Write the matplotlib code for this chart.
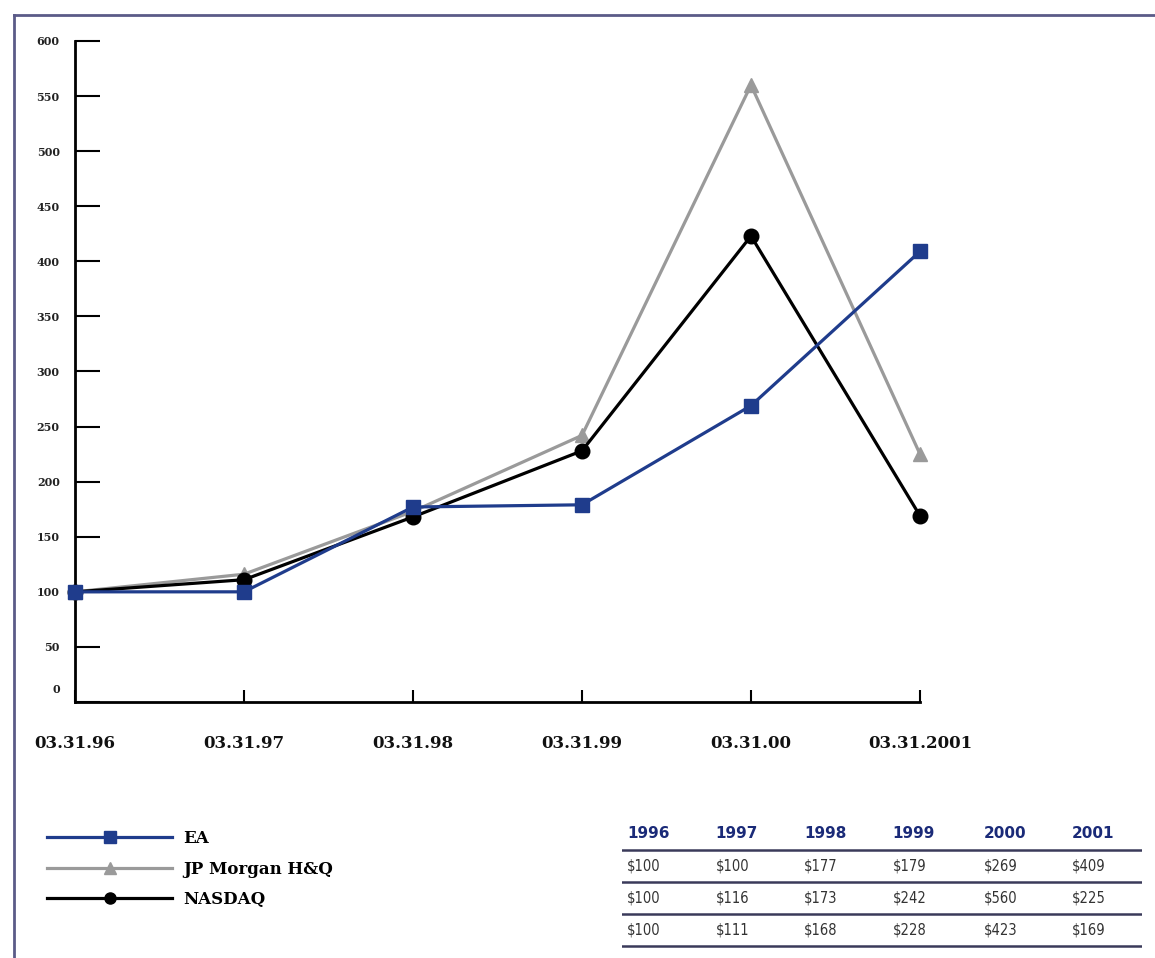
import numpy as np
import matplotlib.pyplot as plt
from matplotlib.lines import Line2D
import matplotlib.transforms as mtransforms

# Data
dates = ["03.31.96", "03.31.97", "03.31.98", "03.31.99", "03.31.00", "03.31.2001"]
years = ["1996", "1997", "1998", "1999", "2000", "2001"]
ea = [100, 100, 177, 179, 269, 409]
jpm = [100, 116, 173, 242, 560, 225]
nasdaq = [100, 111, 168, 228, 423, 169]
yticks = list(range(0, 601, 50))

navy = "#1f3c8c"
grey = "#9a9a9a"
serif = "DejaVu Serif"

W, H = 1155, 958
fig = plt.figure(figsize=(W / 100, H / 100), dpi=100)
fig.patch.set_facecolor("white")

# main axes: x from 75px to 920px, y=0 at 702px, y=600 at 41px
ax = fig.add_axes([75 / W, (H - 702) / H, 845 / W, 661 / H])
x = np.arange(len(dates))

ax.plot(x, jpm, color=grey, lw=2.3, marker="^", ms=10, clip_on=False, zorder=3, label="JP Morgan H&Q")
ax.plot(x, nasdaq, color="black", lw=2.3, marker="o", ms=10.5, clip_on=False, zorder=4, label="NASDAQ")
ax.plot(x, ea, color=navy, lw=2.3, marker="s", ms=9.5, clip_on=False, zorder=5, label="EA")

ax.set_xlim(0, 5)
ax.set_ylim(0, 600)
ax.spines["top"].set_visible(False)
ax.spines["right"].set_visible(False)
for s in ("left", "bottom"):
    ax.spines[s].set_linewidth(2)

ax.set_yticks(yticks)
ax.set_yticklabels([str(v) for v in yticks], fontfamily=serif, fontweight="bold", fontsize=8, color="#222222")
ax.tick_params(axis="y", direction="in", length=18, width=1.5, pad=11)
ax.set_xticks(x)
ax.set_xticklabels(dates, fontfamily=serif, fontweight="bold", fontsize=12, color="#111111")
ax.tick_params(axis="x", direction="in", length=9, width=1.5, pad=24)

# the "0" label sits a little above the axis line
lab0 = ax.get_yticklabels()[0]
lab0.set_transform(lab0.get_transform() + mtransforms.ScaledTranslation(0, 10 / 72, fig.dpi_scale_trans))

# legend bottom-left
handles, labels = ax.get_legend_handles_labels()
order = [2, 0, 1]
leg = fig.legend([handles[i] for i in order], [labels[i] for i in order],
                 loc="upper left", bbox_to_anchor=(32 / W, 1 - 815 / H), frameon=False,
                 numpoints=1, handlelength=7.5, handletextpad=0.7, labelspacing=0.82,
                 prop={"family": serif, "weight": "bold", "size": 12})
for h in leg.legend_handles:
    h.set_markersize(8)

# table of values, bottom right
tax = fig.add_axes([622 / W, (H - 960) / H, 520 / W, 127 / H])
tax.set_xlim(0, 1)
tax.set_ylim(4, 0)
tax.axis("off")
col_x = [0.01, 0.18, 0.35, 0.52, 0.695, 0.865]
for j, yr in enumerate(years):
    tax.text(col_x[j], 0.0, yr, color="#1a2a78", fontfamily="DejaVu Sans", fontweight="heavy",
             fontsize=11, va="center", ha="left")
for i, row in enumerate([ea, jpm, nasdaq]):
    for j, v in enumerate(row):
        tax.text(col_x[j], i + 1.05, f"${v}", color="#333333", fontfamily="DejaVu Sans",
                 fontstretch="condensed", fontsize=10.5, va="center", ha="left")
for i in range(4):
    tax.axhline(i + 0.55, color="#3a3a5a", lw=1.8)

# page frame
fig.add_artist(Line2D([14 / W, 1], [1 - 15 / H, 1 - 15 / H], color="#5b5b88", lw=2))
fig.add_artist(Line2D([14 / W, 14 / W], [0, 1 - 15 / H], color="#5b5b88", lw=2))

plt.savefig("out.png", dpi=100)
